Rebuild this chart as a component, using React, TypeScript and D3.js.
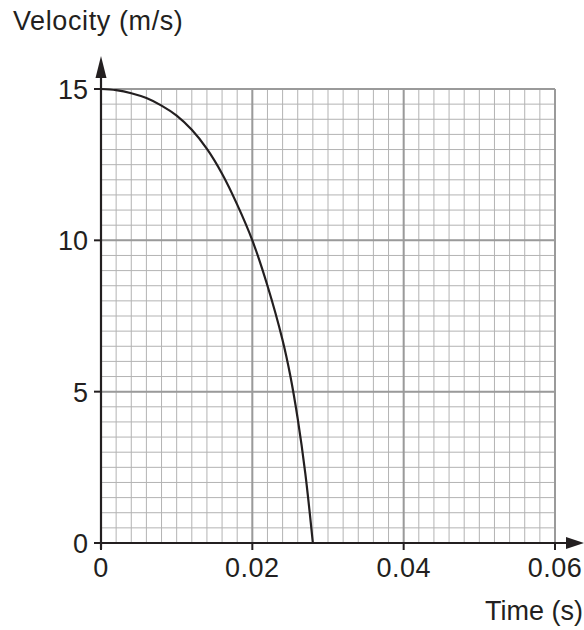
import React, { useRef, useEffect } from 'react';
import * as d3 from 'd3';

// curve
const timeValues = [0, 0.002, 0.004, 0.006, 0.008, 0.010, 0.012, 0.014, 0.016, 0.018, 0.020, 0.022, 0.024, 0.025, 0.026, 0.027, 0.028];
const velocityValues = [15, 14.96, 14.86, 14.7, 14.45, 14.12, 13.65, 13.02, 12.2, 11.18, 10, 8.5, 6.7, 5.55, 4.1, 2.3, 0];

const xTickLabels = ['0', '0.02', '0.04', '0.06'];
const xTickValues = [0, 0.02, 0.04, 0.06];
const yTickValues = [0, 5, 10, 15];

const App = () => {
    const svgRef = useRef<SVGSVGElement>(null);

    useEffect(() => {
        const width = 584;
        const height = 630;
        const left = 101, right = 555, top = 89, bottom = 543;
        const ink = '#231f20';
        const font = 'Arial, "Liberation Sans", sans-serif';
        const fontSize = 27;

        const root = d3.select(svgRef.current);
        root.selectAll('*').remove();
        root.attr('width', width).attr('height', height);

        const x = d3.scaleLinear().domain([0, 0.06]).range([left, right]);
        const y = d3.scaleLinear().domain([0, 15]).range([bottom, top]);

        // minor grid
        const grid = root.append('g');
        grid.append('g').selectAll('line')
            .data(x.ticks(30))
            .join('line')
            .attr('x1', d => x(d)).attr('x2', d => x(d))
            .attr('y1', top).attr('y2', bottom)
            .attr('stroke', '#b3b3b3').attr('stroke-width', 1);
        grid.append('g').selectAll('line')
            .data(y.ticks(30))
            .join('line')
            .attr('y1', d => y(d)).attr('y2', d => y(d))
            .attr('x1', left).attr('x2', right)
            .attr('stroke', '#b3b3b3').attr('stroke-width', 1);

        // major grid
        grid.append('g').selectAll('line')
            .data(xTickValues)
            .join('line')
            .attr('x1', d => x(d)).attr('x2', d => x(d))
            .attr('y1', top).attr('y2', bottom)
            .attr('stroke', '#9a9a9a').attr('stroke-width', 2);
        grid.append('g').selectAll('line')
            .data(yTickValues)
            .join('line')
            .attr('y1', d => y(d)).attr('y2', d => y(d))
            .attr('x1', left).attr('x2', right)
            .attr('stroke', '#9a9a9a').attr('stroke-width', 2);

        // the curve
        const line = d3.line<number>()
            .x((_, i) => x(timeValues[i]))
            .y(d => y(d))
            .curve(d3.curveCatmullRom.alpha(0.5));
        root.append('path')
            .datum(velocityValues)
            .attr('fill', 'none')
            .attr('stroke', ink)
            .attr('stroke-width', 2.2)
            .attr('d', line);

        // axes with arrowheads
        root.append('line')
            .attr('x1', left).attr('x2', left)
            .attr('y1', bottom + 6).attr('y2', 72)
            .attr('stroke', ink).attr('stroke-width', 2.2);
        root.append('line')
            .attr('x1', left - 6).attr('x2', 572)
            .attr('y1', bottom).attr('y2', bottom)
            .attr('stroke', ink).attr('stroke-width', 2.2);
        root.append('path')
            .attr('d', `M${left},56 L${left + 5.5},78 L${left - 5.5},78 Z`)
            .attr('fill', ink);
        root.append('path')
            .attr('d', `M584,${bottom} L566,${bottom - 6} L566,${bottom + 6} Z`)
            .attr('fill', ink);

        // ticks
        root.append('g').selectAll('line')
            .data(xTickValues)
            .join('line')
            .attr('x1', d => x(d)).attr('x2', d => x(d))
            .attr('y1', bottom).attr('y2', bottom + 7)
            .attr('stroke', ink).attr('stroke-width', 2);
        root.append('g').selectAll('line')
            .data(yTickValues)
            .join('line')
            .attr('y1', d => y(d)).attr('y2', d => y(d))
            .attr('x1', left - 7).attr('x2', left)
            .attr('stroke', ink).attr('stroke-width', 2);

        // tick labels
        root.append('g').selectAll('text')
            .data(xTickValues)
            .join('text')
            .attr('x', d => x(d))
            .attr('y', 577)
            .attr('text-anchor', 'middle')
            .attr('font-family', font)
            .attr('font-size', fontSize)
            .attr('letter-spacing', 0.5)
            .attr('fill', ink)
            .text((_, i) => xTickLabels[i]);
        root.append('g').selectAll('text')
            .data(yTickValues)
            .join('text')
            .attr('x', 88)
            .attr('y', d => y(d) + 10)
            .attr('text-anchor', 'end')
            .attr('font-family', font)
            .attr('font-size', fontSize)
            .attr('fill', ink)
            .text(d => String(d));

        // axis titles
        root.append('text')
            .attr('x', 13).attr('y', 30)
            .attr('font-family', font).attr('font-size', fontSize)
            .attr('letter-spacing', 0.6)
            .attr('fill', ink)
            .text('Velocity (m/s)');
        root.append('text')
            .attr('x', 583).attr('y', 620)
            .attr('text-anchor', 'end')
            .attr('font-family', font).attr('font-size', fontSize)
            .attr('fill', ink)
            .text('Time (s)');
    }, []);

    return (
        <div style={{ position: 'absolute', left: 0, top: 0, width: 584, height: 630, background: '#fff' }}>
            <svg ref={svgRef} style={{ display: 'block' }}></svg>
        </div>
    );
};

export default App;
